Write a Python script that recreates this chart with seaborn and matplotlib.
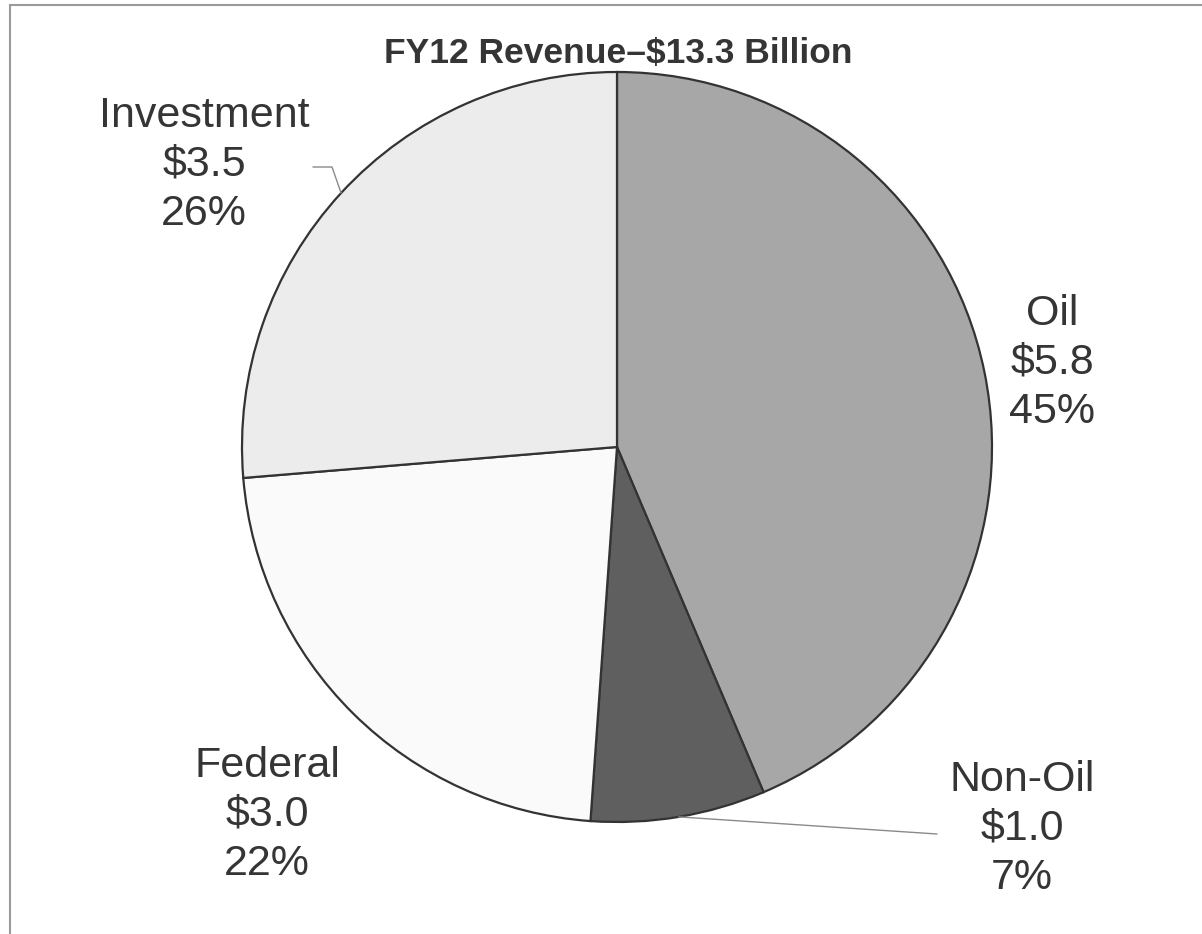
import numpy as np
import matplotlib
matplotlib.use("Agg")
import matplotlib.pyplot as plt
import seaborn as sns

# Revenue sources, FY12 (billions of dollars)
categories = ["Oil", "Non-Oil", "Federal", "Investment"]
amounts = [5.8, 1.0, 3.0, 3.5]
shares = [45, 7, 22, 26]
title = "FY12 Revenue\u2013$13.3 Billion"

# Styling
slice_colors = ["#a7a7a7", "#5f5f5f", "#fafafa", "#ececec"]
text_color = "#353535"
W, H = 1202, 934
center = (617, H - 447)
radius = 375
label_pos = {
    "Oil": (1052, H - 363),
    "Non-Oil": (1022, H - 829),
    "Federal": (267, H - 815),
    "Investment": (204, H - 165),
}

sns.set_theme(style="white")
plt.rcParams["font.family"] = ["Liberation Sans", "DejaVu Sans"]

fig = plt.figure(figsize=(W / 100, H / 100), dpi=100)
ax = fig.add_axes([0, 0, 1, 1])

wedges, _ = ax.pie(
    amounts,
    colors=slice_colors,
    startangle=90,
    counterclock=False,
    center=center,
    radius=radius,
    wedgeprops=dict(edgecolor="#333333", linewidth=1.6),
)
ax.set_xlim(0, W)
ax.set_ylim(0, H)
ax.set_aspect("equal")
ax.axis("off")

for name, amt, pct in zip(categories, amounts, shares):
    x, y = label_pos[name]
    ax.text(x, y, f"{name}\n${amt:.1f}\n{pct}%", ha="center", va="center",
            fontsize=31, color=text_color, linespacing=1.29)


def edge_point(w):
    mid = np.deg2rad((w.theta1 + w.theta2) / 2)
    return center[0] + radius * np.cos(mid), center[1] + radius * np.sin(mid)


# Leader lines for the labels that sit away from their slices
inv = wedges[categories.index("Investment")]
ex, ey = edge_point(inv)
ax.plot([313, 332, ex], [H - 167, H - 167, ey], color="#8a8a8a", lw=1.0)

non = wedges[categories.index("Non-Oil")]
ex, ey = edge_point(non)
ax.plot([ex, 937], [ey, H - 834], color="#8a8a8a", lw=1.0)

fig.text(618 / W, 1 - 53 / H, title, ha="center", va="center",
         fontsize=25.5, fontweight="bold", color=text_color)

# Frame edges along top and left
fig.add_artist(plt.Line2D([10 / W, 1], [1 - 5 / H, 1 - 5 / H], color="#9a9a9a", lw=1.5))
fig.add_artist(plt.Line2D([10 / W, 10 / W], [0, 1 - 5 / H], color="#9a9a9a", lw=1.5))

fig.savefig("out.png", dpi=100)
